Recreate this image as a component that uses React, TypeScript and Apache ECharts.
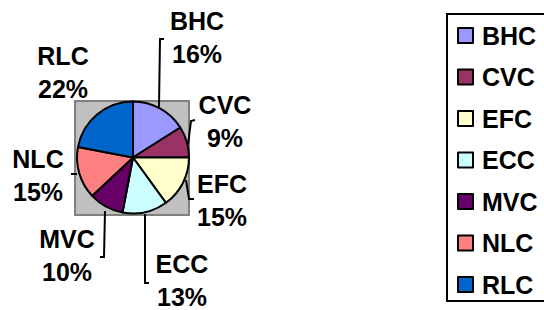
import React, { useEffect, useRef } from "react";
import * as echarts from "echarts";

const categories = ["BHC", "CVC", "EFC", "ECC", "MVC", "NLC", "RLC"];
const values = [16, 9, 15, 13, 10, 15, 22];
const colors = ["#9999FF", "#993366", "#FFFFCC", "#CCFFFF", "#660066", "#FF8080", "#0066CC"];

// label anchor positions (layout only)
const labelPos: [number, number][] = [
  [197, 37],
  [225, 121],
  [222, 200],
  [182, 280],
  [67, 255],
  [38, 175],
  [63, 72],
];
const linePts: number[][][] = [
  [[159, 107], [160, 39], [164, 39]],
  [[188, 145], [191, 121], [195, 120]],
  [[186, 180], [189, 199], [194, 199]],
  [[145, 214], [145, 283], [149, 283]],
  [[105, 211], [104, 257], [100, 257]],
  [[77, 174], [72, 174], [72, 175]],
  [[0, 0], [0, 0], [0, 0]],
];

const FONT = "'Liberation Sans', Arial, sans-serif";

export default function App() {
  const ref = useRef<HTMLDivElement>(null);
  useEffect(() => {
    if (!ref.current) return;
    const chart = echarts.init(ref.current, null, { renderer: "svg" });
    chart.setOption({
      animation: false,
      backgroundColor: "#ffffff",
      graphic: [
        {
          type: "rect",
          z: -1,
          shape: { x: 75, y: 101, width: 114, height: 114 },
          style: { fill: "#C0C0C0", stroke: "#808080", lineWidth: 2 },
        },
      ],
      legend: {
        orient: "vertical",
        left: 447,
        top: 14,
        padding: [9, 30, 4, 10],
        borderColor: "#000",
        borderWidth: 2,
        itemWidth: 15,
        itemHeight: 15,
        itemGap: 16.5,
        icon: "rect",
        itemStyle: { borderColor: "#000", borderWidth: 2 },
        textStyle: {
          color: "#000",
          fontSize: 25,
          fontWeight: "bold",
          fontFamily: FONT,
          lineHeight: 24,
          padding: [0, 0, 0, 4],
        },
        data: categories,
      },
      series: [
        {
          type: "pie",
          center: [133, 157.5],
          radius: 56,
          startAngle: 90,
          clockwise: true,
          avoidLabelOverlap: false,
          itemStyle: { borderColor: "#000", borderWidth: 2 },
          label: {
            show: true,
            formatter: (p: any) => `${p.name}\n${Math.round(p.percent)}%`,
            color: "#000",
            fontSize: 25,
            fontWeight: "bold",
            fontFamily: FONT,
            lineHeight: 33,
            align: "center",
          },
          labelLine: {
            show: true,
            smooth: false,
            lineStyle: { color: "#000", width: 2 },
          },
          labelLayout: (params: any) => {
            const i = params.dataIndex;
            return {
              x: labelPos[i][0],
              y: labelPos[i][1],
              align: "center",
              verticalAlign: "middle",
              labelLinePoints: linePts[i],
            };
          },
          data: categories.map((c, i) => ({
            name: c,
            value: values[i],
            itemStyle: { color: colors[i] },
            labelLine: i === 6 ? { show: false } : undefined,
          })),
        },
      ],
    });
    return () => chart.dispose();
  }, []);
  return (
    <div
      ref={ref}
      style={{ position: "fixed", left: 0, top: 0, width: 544, height: 310 }}
    />
  );
}
